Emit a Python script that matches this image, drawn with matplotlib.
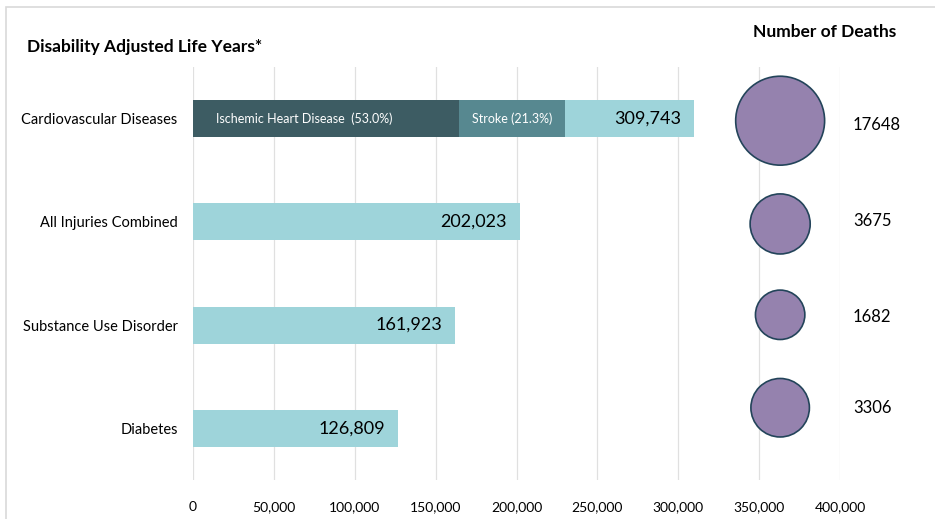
import matplotlib.pyplot as plt
from matplotlib.patches import Rectangle
from matplotlib.ticker import FuncFormatter
import numpy as np

plt.rcParams['font.family'] = ['Lato', 'DejaVu Sans']

# DALYs by cause, with the cardiovascular bar split into sub-causes
causes = ["Cardiovascular Diseases", "All Injuries Combined",
          "Substance Use Disorder", "Diabetes"]
dalys = [309743, 202023, 161923, 126809]
cvd_parts = ["Ischemic Heart Disease", "Stroke"]
cvd_shares = [0.530, 0.213]
deaths = [17648, 3675, 1682, 3306]

light = "#9ed4da"
dark = "#3d5c63"
mid = "#578890"
bubble_fill = "#9582ae"
bubble_edge = "#23445a"

fig = plt.figure(figsize=(9.35, 5.19), dpi=100)
ax = fig.add_axes([193 / 935, 1 - 480 / 519, 647 / 935, 413 / 519])

y = np.arange(len(causes))
bar_h = 0.36
ax.barh(y, dalys, height=bar_h, color=light, zorder=2)

# stacked sub-causes on the first bar
left = 0
for i, (name, share) in enumerate(zip(cvd_parts, cvd_shares)):
    w = dalys[0] * share
    ax.barh(0, w, left=left, height=bar_h, color=dark if i == 0 else mid, zorder=3)
    if i == 0:
        ax.text(left + 14000, 0, f"{name}  ({share * 100:.1f}%)", color="white",
                fontsize=9, va="center", ha="left", zorder=4)
    else:
        ax.text(left + w / 2, 0, f"{name} ({share * 100:.1f}%)", color="white",
                fontsize=9, va="center", ha="center", zorder=4)
    left += w

for yi, v in zip(y, dalys):
    ax.text(v - 8000, yi, f"{v:,}", fontsize=13, va="center", ha="right", zorder=4)

# deaths as bubbles off to the right
bubble_y = [0.02, 1.02, 1.9, 2.8]
label_y = [0.06, 0.99, 1.92, 2.8]
sizes = np.array(deaths, dtype=float) ** 0.5
sizes = sizes / sizes.max() * 4100
ax.scatter([363000] * len(deaths), bubble_y, s=sizes, color=bubble_fill,
           edgecolor=bubble_edge, linewidth=1.2, zorder=5, clip_on=False)
for yy, d in zip(label_y, deaths):
    ax.text(408000, yy, str(d), fontsize=12, va="center", ha="left", clip_on=False)

ax.set_xlim(0, 400000)
ax.set_ylim(3.5, -0.5)
ax.set_xticks(np.arange(0, 400001, 50000))
ax.xaxis.set_major_formatter(FuncFormatter(lambda v, p: f"{int(v):,}"))
ax.set_yticks(y)
ax.set_yticklabels(causes)
ax.tick_params(axis="x", length=0, pad=15, labelsize=10)
ax.tick_params(axis="y", length=0, pad=11, labelsize=10.5)
ax.grid(axis="x", color="#e0e0e0", linewidth=0.9, zorder=0)
ax.set_axisbelow(True)
for s in ax.spines.values():
    s.set_visible(False)

fig.text(27 / 935, 1 - 47 / 519, "Disability Adjusted Life Years*", fontsize=12.5,
         fontweight="bold", va="center", ha="left")
fig.text(825 / 935, 1 - 32 / 519, "Number of Deaths", fontsize=12.5,
         fontweight="bold", va="center", ha="center")

# light frame around the chart
fig.patches.append(Rectangle((6 / 935, -0.1), 1.2, 1 - 7 / 519 + 0.1,
                             transform=fig.transFigure, fill=False,
                             edgecolor="#d9d9d9", linewidth=1.2))

fig.savefig("out.png", dpi=100)
